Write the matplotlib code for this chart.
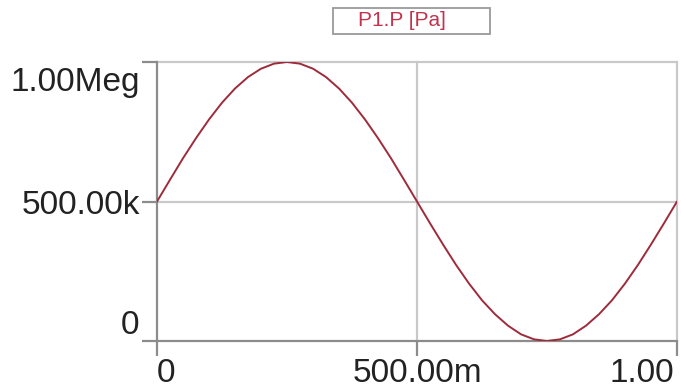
import numpy as np
import matplotlib
matplotlib.use('Agg')
import matplotlib.pyplot as plt
from matplotlib.transforms import ScaledTranslation

# Time axis (s) and pressure (kPa)
time_s = [0.000, 0.025, 0.050, 0.075, 0.100, 0.125, 0.150, 0.175, 0.200, 0.225,
          0.250, 0.275, 0.300, 0.325, 0.350, 0.375, 0.400, 0.425, 0.450, 0.475,
          0.500, 0.525, 0.550, 0.575, 0.600, 0.625, 0.650, 0.675, 0.700, 0.725,
          0.750, 0.775, 0.800, 0.825, 0.850, 0.875, 0.900, 0.925, 0.950, 0.975,
          1.000]
pressure_k = [500, 578, 655, 727, 794, 854, 905, 946, 976, 994,
              1000, 994, 976, 946, 905, 854, 794, 727, 655, 578,
              500, 422, 346, 273, 206, 146, 96, 55, 24, 6,
              0, 6, 24, 55, 96, 146, 206, 273, 346, 422,
              500]

x_ticks = [0, 0.5, 1.0]
x_labels = ['0', '500.00m', '1.00']
y_ticks = [0, 500e3, 1e6]
y_labels = ['0', '500.00k', '1.00Meg']
series_name = 'P1.P [Pa]'

plt.rcParams['font.family'] = ['Liberation Sans', 'DejaVu Sans']

fig = plt.figure(figsize=(6.81, 3.90), dpi=100)
ax = fig.add_axes([157 / 681, 49 / 390, 520 / 681, 279 / 390])

p = np.array(pressure_k) * 1000
ax.plot(time_s, p, color='#9e2b3b', lw=1.4, solid_capstyle='round', zorder=3)

ax.set_xlim(0, 1.0)
ax.set_ylim(0, 1e6)

grid_c = '#c9c9c9'
axis_c = '#8c8c8c'
for v in y_ticks[1:]:
    ax.axhline(v, color=grid_c, lw=1.6, zorder=1, clip_on=False)
for v in x_ticks[1:]:
    ax.axvline(v, color=grid_c, lw=1.6, zorder=1, clip_on=False)

for s in ['top', 'right']:
    ax.spines[s].set_visible(False)
for s in ['left', 'bottom']:
    ax.spines[s].set_color(axis_c)
    ax.spines[s].set_linewidth(1.6)

ax.set_xticks(x_ticks)
ax.set_xticklabels(x_labels)
ax.set_yticks(y_ticks)
ax.set_yticklabels(y_labels)
ax.tick_params(axis='both', length=10.5, width=1.6, color=axis_c,
               labelsize=24, labelcolor='#222222')
ax.tick_params(axis='y', pad=2)
ax.tick_params(axis='x', pad=2)

xl = ax.get_xticklabels()
xl[0].set_ha('left')
xl[-1].set_ha('right')
xl[-1].set_transform(xl[-1].get_transform()
                     + ScaledTranslation(-3 / 100, 0, fig.dpi_scale_trans))
yl = ax.get_yticklabels()
yl[0].set_va('bottom')
yl[-1].set_va('top')
yl[-1].set_transform(yl[-1].get_transform()
                     + ScaledTranslation(0, -5 / 100, fig.dpi_scale_trans))

# legend box at the top
fig.text(402 / 681, 1 - 21 / 390, series_name, color='#c2324c', fontsize=15,
         ha='center', va='center')
fig.patches.append(plt.Rectangle((333 / 681, 1 - 34 / 390), 157 / 681, 26 / 390,
                                 transform=fig.transFigure, fill=False,
                                 edgecolor='#9a9a9a', lw=1.3))

fig.savefig('out.png', dpi=100)
